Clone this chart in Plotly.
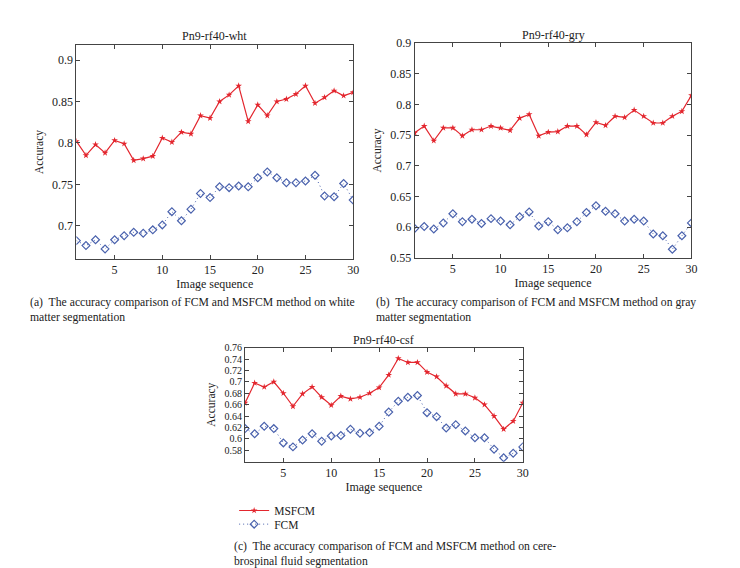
import plotly.graph_objects as go

seq = list(range(1, 31))

wht_msfcm = [0.802, 0.785, 0.798, 0.788, 0.803, 0.799, 0.779, 0.781, 0.784, 0.806,
             0.801, 0.813, 0.811, 0.833, 0.830, 0.850, 0.858, 0.869, 0.826, 0.846,
             0.833, 0.850, 0.853, 0.859, 0.869, 0.848, 0.855, 0.863, 0.857, 0.861]
wht_fcm = [0.682, 0.676, 0.683, 0.672, 0.683, 0.688, 0.692, 0.691, 0.695, 0.701,
           0.717, 0.706, 0.720, 0.739, 0.734, 0.747, 0.746, 0.748, 0.747, 0.758,
           0.765, 0.758, 0.752, 0.752, 0.754, 0.761, 0.736, 0.735, 0.751, 0.731]

gry_msfcm = [0.754, 0.765, 0.741, 0.762, 0.762, 0.749, 0.759, 0.759, 0.765, 0.762,
             0.758, 0.778, 0.784, 0.749, 0.755, 0.756, 0.765, 0.765, 0.751, 0.771,
             0.766, 0.781, 0.779, 0.791, 0.781, 0.770, 0.770, 0.781, 0.789, 0.815]
gry_fcm = [0.598, 0.601, 0.597, 0.607, 0.622, 0.609, 0.613, 0.606, 0.614, 0.610,
           0.604, 0.617, 0.625, 0.602, 0.609, 0.596, 0.599, 0.609, 0.624, 0.635,
           0.626, 0.622, 0.610, 0.613, 0.610, 0.589, 0.586, 0.564, 0.586, 0.607]

csf_msfcm = [0.663, 0.698, 0.691, 0.700, 0.680, 0.657, 0.679, 0.691, 0.673, 0.659,
             0.675, 0.670, 0.673, 0.680, 0.690, 0.712, 0.741, 0.734, 0.734, 0.717,
             0.709, 0.693, 0.679, 0.679, 0.672, 0.660, 0.640, 0.617, 0.631, 0.663]
csf_fcm = [0.618, 0.609, 0.622, 0.618, 0.593, 0.586, 0.598, 0.609, 0.596, 0.605,
           0.606, 0.617, 0.610, 0.611, 0.622, 0.647, 0.666, 0.673, 0.676, 0.646,
           0.639, 0.619, 0.625, 0.614, 0.602, 0.602, 0.582, 0.567, 0.575, 0.586]

x_ticks = [5, 10, 15, 20, 25, 30]
wht_yticks = [0.7, 0.75, 0.8, 0.85, 0.9]
gry_yticks = [0.55, 0.6, 0.65, 0.7, 0.75, 0.8, 0.85, 0.9]
csf_yticks = [0.58, 0.6, 0.62, 0.64, 0.66, 0.68, 0.7, 0.72, 0.74, 0.76]

titles = ["Pn9-rf40-wht", "Pn9-rf40-gry", "Pn9-rf40-csf"]
series_names = ["MSFCM", "FCM"]

RED = "#e3262e"
BLUE = "#4a62ad"
FONT = "Liberation Serif"
W, H = 740, 568

fig = go.Figure()

panels = [
    (wht_msfcm, wht_fcm, "x", "y"),
    (gry_msfcm, gry_fcm, "x2", "y2"),
    (csf_msfcm, csf_fcm, "x3", "y3"),
]
for i, (ms, fc, xa, ya) in enumerate(panels):
    fig.add_trace(go.Scatter(
        x=seq, y=ms, xaxis=xa, yaxis=ya, name=series_names[0], mode="lines+markers",
        line=dict(color=RED, width=1.2),
        marker=dict(symbol="star", size=5, color=RED),
        legend="legend", showlegend=(i == 2)))
    fig.add_trace(go.Scatter(
        x=seq, y=fc, xaxis=xa, yaxis=ya, name=series_names[1], mode="lines+markers",
        line=dict(color=BLUE, width=1, dash="1px,3px"),
        marker=dict(symbol="diamond-open", size=6, color=BLUE, line=dict(width=1.2)),
        legend="legend2", showlegend=(i == 2)))


def px_dom(a, b, total, flip=False):
    if flip:
        return [1 - b / total, 1 - a / total]
    return [a / total, b / total]


def xaxis(dom, anchor):
    return dict(domain=dom, anchor=anchor, range=[1, 30], tickvals=x_ticks,
                ticks="inside", ticklen=4, mirror="ticks", showline=True,
                linecolor="#444", linewidth=1, showgrid=False, zeroline=False,
                tickfont=dict(size=12, color="#222"),
                title=dict(text="Image sequence", font=dict(size=12, color="#222"), standoff=1))


def yaxis(dom, anchor, rng, ticks, fs=12):
    return dict(domain=dom, anchor=anchor, range=rng, tickvals=ticks,
                ticktext=[f"{t:g}" for t in ticks],
                ticks="inside", ticklen=4, mirror="ticks", showline=True,
                linecolor="#444", linewidth=1, showgrid=False, zeroline=False,
                tickfont=dict(size=fs, color="#222"),
                title=dict(text="Accuracy", font=dict(size=11.5, color="#222"), standoff=6))


def legend_at(cy):
    return dict(x=228 / W, y=1 - cy / H, xanchor="left", yanchor="middle",
                font=dict(size=11.5, color="#222"), itemwidth=30,
                bgcolor="rgba(0,0,0,0)", borderwidth=0)


fig.update_layout(
    width=W, height=H,
    margin=dict(l=0, r=0, t=0, b=0),
    paper_bgcolor="white", plot_bgcolor="white",
    font=dict(family=FONT, color="#222"),
    xaxis=xaxis(px_dom(69, 348, W), "y"),
    yaxis=yaxis(px_dom(31, 250, H, True), "x", [0.66, 0.918], wht_yticks),
    xaxis2=xaxis(px_dom(410, 689, W), "y2"),
    yaxis2=yaxis(px_dom(29, 249, H, True), "x2", [0.55, 0.9], gry_yticks),
    xaxis3=xaxis(px_dom(239, 519, W), "y3"),
    yaxis3=yaxis(px_dom(341, 458, H, True), "x3", [0.56, 0.76], csf_yticks, fs=10),
    legend=legend_at(508),
    legend2=legend_at(522),
)

# panel titles
for txt, cx, cy in [(titles[0], 208, 22), (titles[1], 550, 20), (titles[2], 379, 333)]:
    fig.add_annotation(text=txt, x=cx / W, y=1 - cy / H, xref="paper", yref="paper",
                       showarrow=False, font=dict(size=12, color="#222"),
                       xanchor="center", yanchor="middle")

captions = [
    ("(a)  The accuracy comparison of FCM and MSFCM method on white<br>matter segmentation", 20, 302),
    ("(b)  The accuracy comparison of FCM and MSFCM method on gray<br>matter segmentation", 369, 302),
    ("(c)  The accuracy comparison of FCM and MSFCM method on cere-<br>brospinal fluid segmentation", 226, 553),
]
for txt, lx, cy in captions:
    fig.add_annotation(text=txt, x=lx / W, y=1 - cy / H, xref="paper", yref="paper",
                       showarrow=False, align="left", font=dict(size=11.7, color="#222"),
                       xanchor="left", yanchor="middle")

fig.write_html("out.html")
